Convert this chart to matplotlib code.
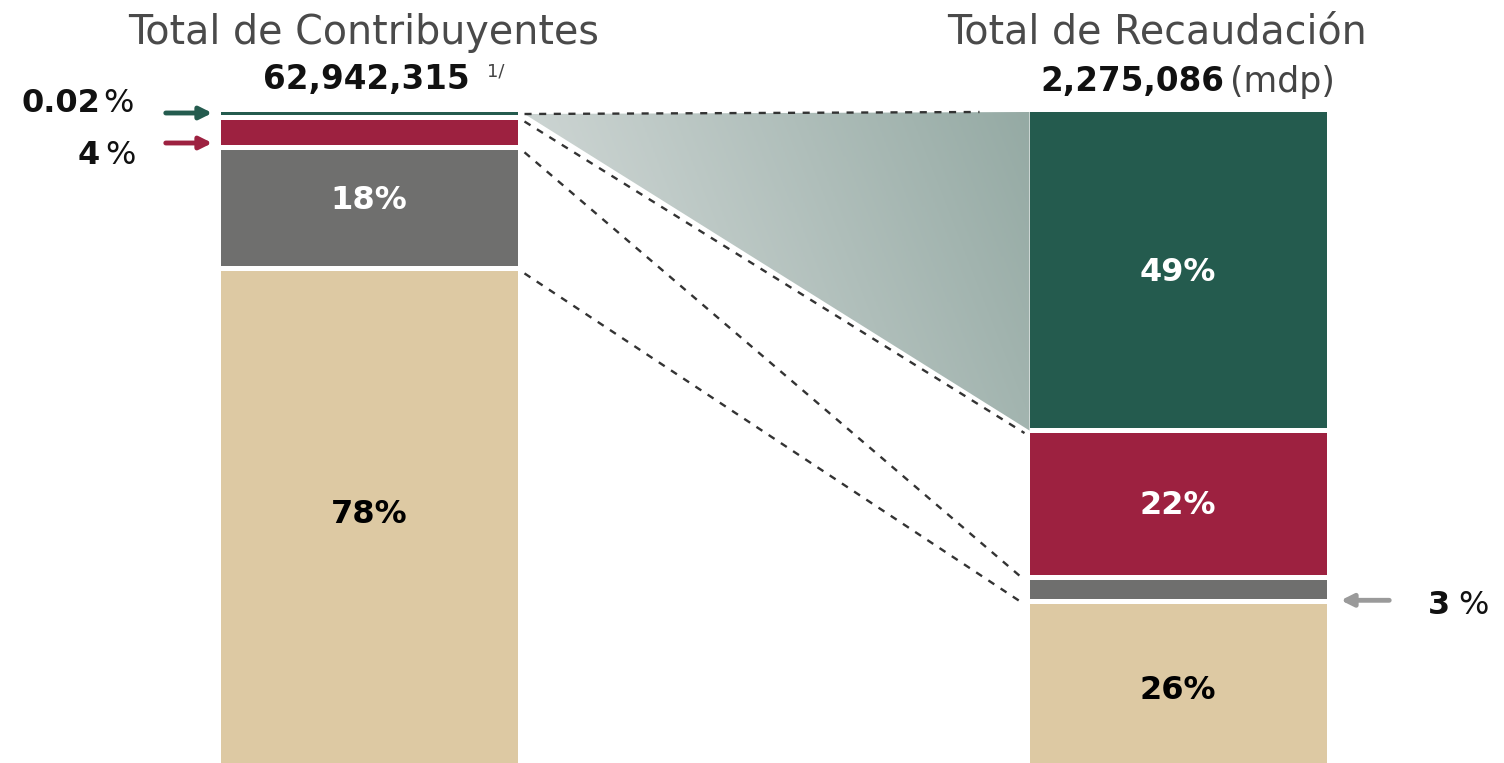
import numpy as np
import matplotlib.pyplot as plt
from matplotlib.patches import Polygon
from matplotlib.colors import LinearSegmentedColormap

plt.rcParams['font.family'] = ['DejaVu Sans']

# Datos (porcentajes)
segmentos = ['Grandes', 'Medianos', 'Pequeños', 'Resto']
contribuyentes_pct = [0.02, 4, 18, 78]
recaudacion_pct = [49, 22, 3, 26]
etiquetas_contrib = [None, None, '18%', '78%']
etiquetas_recaud = ['49%', '22%', None, '26%']
colores = ['#245B4E', '#9D2140', '#6F6F6E', '#DDC9A3']
color_texto = ['white', 'white', 'white', 'black']

total_contrib = '62,942,315'
total_recaud = '2,275,086'

# Escala de dibujo (pixeles por punto porcentual)
ESCALA = 6.45
HUECO = 5
ALTO_MIN = 2.5
Y0 = 112
x_izq, x_der, ancho = 369, 1178, 297


def apilar(valores):
    alturas = np.maximum(np.array(valores) * ESCALA, ALTO_MIN)
    bases = Y0 + np.concatenate([[0], np.cumsum(alturas + HUECO)[:-1]])
    return bases, alturas


fig = plt.figure(figsize=(15.04, 7.63), dpi=100)
ax = fig.add_axes([0, 0, 1, 1])
ax.set_xlim(0, 1504)
ax.set_ylim(763, 0)
ax.axis('off')

b_izq, h_izq = apilar(contribuyentes_pct)
b_der, h_der = apilar(recaudacion_pct)

ax.bar([x_izq] * 4, h_izq, bottom=b_izq, width=ancho, color=colores, zorder=3)
ax.bar([x_der] * 4, h_der, bottom=b_der, width=ancho, color=colores, zorder=3)

# Zona sombreada con degradado
xa, xb = x_izq + ancho / 2 + 7, x_der - ancho / 2
tri = Polygon([(xa, b_izq[0] + 2), (xb, b_der[0]), (xb, b_der[1] - HUECO / 2)],
              closed=True, facecolor='none', edgecolor='none')
ax.add_patch(tri)
gx = np.linspace(0, 1, 256)
gy = np.linspace(0, 1, 64)
grad = gx[None, :] * 0.8 + (1 - gy[:, None]) * 0.2
cmap = LinearSegmentedColormap.from_list('sombra', ['#DADFDE', '#95AAA4'])
im = ax.imshow(grad, cmap=cmap, extent=(xa, xb, b_der[1], b_der[0]),
               aspect='auto', zorder=1)
im.set_clip_path(tri)
ax.set_xlim(0, 1504)
ax.set_ylim(763, 0)

# Lineas punteadas de conexion
for i in range(4):
    fin = xb - 5 if i > 0 else xb - 50
    ax.plot([xa, fin], [b_izq[i] + 2, b_der[i]], linestyle=(0, (3, 3.2)),
            color='#333333', lw=1.7, zorder=2)

# Etiquetas dentro de las barras
for i in range(4):
    if etiquetas_contrib[i]:
        ax.text(x_izq, b_izq[i] + h_izq[i] / 2 - 8, etiquetas_contrib[i],
                ha='center', va='center', fontsize=23, fontweight='bold',
                color=color_texto[i], zorder=4)
    if etiquetas_recaud[i]:
        ax.text(x_der, b_der[i] + h_der[i] / 2 + 2, etiquetas_recaud[i],
                ha='center', va='center', fontsize=23, fontweight='bold',
                color=color_texto[i], zorder=4)

# Titulos
ax.text(x_izq - 5, 33, 'Total de Contribuyentes', ha='center', va='center',
        fontsize=28.5, color='#4a4a4a')
ax.text(x_izq - 3, 79, total_contrib, ha='center', va='center',
        fontsize=23.5, fontweight='bold', color='#111111')
ax.text(487, 72, '1/', ha='left', va='center', fontsize=13, color='#444444')
ax.text(1157, 33, 'Total de Recaudación', ha='center', va='center',
        fontsize=28.5, color='#4a4a4a')
ax.text(1224, 82, total_recaud, ha='right', va='center',
        fontsize=23.5, fontweight='bold', color='#111111')
ax.text(1230, 82, '(mdp)', ha='left', va='center',
        fontsize=25, color='#444444')

# Flechas y porcentajes pequeños
flecha = dict(arrowstyle='-|>', lw=3.5, mutation_scale=18)
ax.annotate('', xy=(215, b_izq[0] + 1), xytext=(163, b_izq[0] + 1),
            arrowprops=dict(flecha, color=colores[0]))
ax.annotate('', xy=(215, 143), xytext=(163, 143),
            arrowprops=dict(flecha, color=colores[1]))
y_3 = b_der[2] + h_der[2] + 1
ax.annotate('', xy=(1338, y_3), xytext=(1392, y_3),
            arrowprops=dict(flecha, color='#9A9A9A'))

ax.text(100, 103, f'{contribuyentes_pct[0]}', ha='right', va='center',
        fontsize=23, fontweight='bold', color='#111111')
ax.text(103, 103, '%', ha='left', va='center', fontsize=23, color='#111111')
ax.text(100, 155, f'{contribuyentes_pct[1]}', ha='right', va='center',
        fontsize=23, fontweight='bold', color='#111111')
ax.text(105, 155, '%', ha='left', va='center', fontsize=23, color='#111111')
ax.text(1450, 605, f'{recaudacion_pct[2]}', ha='right', va='center',
        fontsize=23, fontweight='bold', color='#111111')
ax.text(1458, 605, '%', ha='left', va='center', fontsize=23, color='#111111')

fig.savefig('out.png', dpi=100)
